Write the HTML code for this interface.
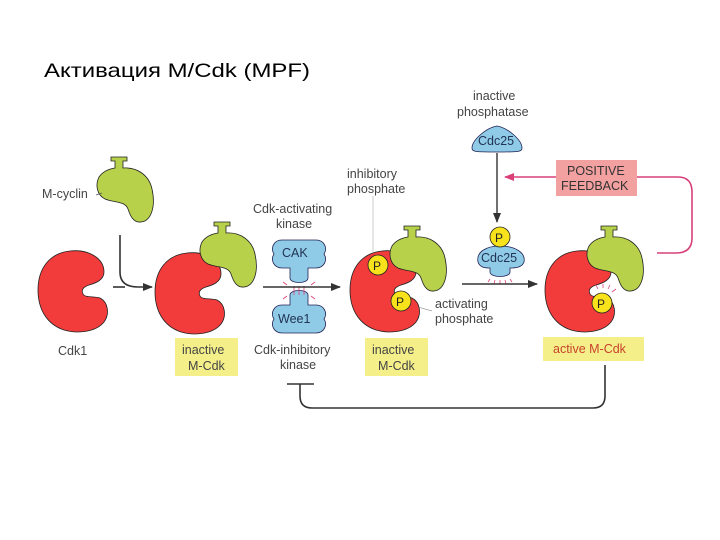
<!DOCTYPE html>
<html><head><meta charset="utf-8"><style>
html,body{margin:0;padding:0;background:#fff}
svg{display:block}
text{font-family:"Liberation Sans",sans-serif;fill:#444;font-size:12.5px}
</style></head><body>
<svg width="720" height="540" viewBox="0 0 720 540" xmlns="http://www.w3.org/2000/svg">
<defs>
<path id="cdk" d="M32,1 C50,-1 66,8 66,22 C66,30 58,33 51,35 C45,37 43,40 45,44 C47,48 56,46 62,48 C70,52 72,64 66,72 C58,82 40,84 26,80 C8,74 0,58 0,40 C0,18 12,3 32,1Z" fill="#f23b3b" stroke="#222" stroke-width="0.8"/>
<path id="cyc" d="M16,0 H32 V4 H28 V11 C42,10 54,18 57,32 C61,50 56,64 46,65 C38,66 35,58 33,52 C30,44 20,46 10,42 C2,38 0,28 4,20 C8,14 14,12 20,11 V4 H16Z" fill="#b7d14a" stroke="#222" stroke-width="0.8"/>
<path id="kin" d="M10,0 H44 C52,0 56,8 52,14 C56,20 52,28 44,28 H36 V38 C36,44 18,44 18,38 V28 H10 C2,28 -2,20 2,14 C-2,8 2,0 10,0Z" fill="#8fcbe6" stroke="#225" stroke-width="0.8"/>
<marker id="ah" markerWidth="10" markerHeight="8" refX="9" refY="4" orient="auto" markerUnits="userSpaceOnUse"><path d="M0,0 L10,4 L0,8Z" fill="#333"/></marker>
<marker id="ahp" markerWidth="10" markerHeight="8" refX="9" refY="4" orient="auto" markerUnits="userSpaceOnUse"><path d="M0,0 L10,4 L0,8Z" fill="#d9407a"/></marker>
</defs>

<text x="44" y="77" style="font-size:19.5px;fill:#000" textLength="266" lengthAdjust="spacingAndGlyphs">Активация M/Cdk (MPF)</text>

<use href="#cyc" x="95" y="157"/>
<use href="#cdk" x="38" y="250"/>
<text x="42" y="198">M-cyclin</text>
<line x1="96" y1="195" x2="102" y2="193" stroke="#555" stroke-width="0.7"/>
<text x="58" y="355">Cdk1</text>

<path d="M120,235 V272 Q120,287 138,287 H152" stroke="#333" stroke-width="1.6" fill="none" marker-end="url(#ah)"/>
<path d="M113,287 H125" stroke="#333" stroke-width="1.6"/>

<use href="#cdk" x="155" y="252"/>
<use href="#cyc" x="198" y="222"/>
<rect x="175" y="338" width="63" height="38" fill="#f5ef8a"/>
<text x="182" y="354">inactive</text><text x="188" y="370">M-Cdk</text>

<text x="253" y="213">Cdk-activating</text><text x="276" y="228">kinase</text>
<use href="#kin" x="272" y="240"/>
<text x="282" y="257" style="fill:#235">CAK</text>
<use href="#kin" transform="translate(272,333) scale(1,-1)"/>
<text x="278" y="323" style="fill:#235">Wee1</text>
<g stroke="#d9407a" stroke-width="0.8">
<line x1="294" y1="286" x2="294" y2="295"/><line x1="299" y1="286" x2="299" y2="295"/><line x1="304" y1="286" x2="304" y2="295"/>
<line x1="287" y1="285" x2="283" y2="282"/><line x1="311" y1="285" x2="315" y2="282"/>
<line x1="287" y1="296" x2="283" y2="299"/><line x1="311" y1="296" x2="315" y2="299"/>
</g>
<path d="M263,287 H340" stroke="#333" stroke-width="1.6" marker-end="url(#ah)"/>
<text x="254" y="354">Cdk-inhibitory</text><text x="280" y="369">kinase</text>

<use href="#cdk" x="350" y="250"/>
<use href="#cyc" x="388" y="226"/>
<circle cx="378" cy="265" r="10" fill="#f7e21b" stroke="#222" stroke-width="0.8"/><text x="373" y="270" style="fill:#222;font-size:12px">P</text>
<circle cx="401" cy="301" r="10" fill="#f7e21b" stroke="#222" stroke-width="0.8"/><text x="396" y="306" style="fill:#222;font-size:12px">P</text>
<text x="347" y="178">inhibitory</text><text x="347" y="193">phosphate</text>
<line x1="373" y1="196" x2="373" y2="253" stroke="#aaa" stroke-width="0.6"/>
<text x="435" y="308">activating</text><text x="435" y="323">phosphate</text>
<line x1="418" y1="307" x2="432" y2="311" stroke="#777" stroke-width="0.6"/>
<rect x="365" y="338" width="63" height="38" fill="#f5ef8a"/>
<text x="372" y="354">inactive</text><text x="378" y="370">M-Cdk</text>

<text x="473" y="100">inactive</text><text x="457" y="116">phosphatase</text>
<path d="M472,148 C472,140 486,128 497,126 C508,128 522,140 522,148 C522,152 518,152 497,152 C476,152 472,152 472,148Z" fill="#8fcbe6" stroke="#225" stroke-width="0.8"/>
<text x="478" y="145" style="fill:#235">Cdc25</text>
<path d="M497,153 V222" stroke="#333" stroke-width="1.4" marker-end="url(#ah)"/>
<path d="M478,262 C476,252 486,246 500,246 C514,246 526,252 524,262 C522,268 514,268 510,268 V272 C510,278 490,278 490,272 V268 C486,268 480,268 478,262Z" fill="#8fcbe6" stroke="#225" stroke-width="0.8"/>
<circle cx="500" cy="237" r="10" fill="#f7e21b" stroke="#222" stroke-width="0.8"/><text x="495" y="242" style="fill:#222;font-size:12px">P</text>
<text x="481" y="262" style="fill:#235">Cdc25</text>
<g stroke="#d9407a" stroke-width="0.8">
<line x1="490" y1="279" x2="488" y2="282"/><line x1="495" y1="280" x2="494" y2="284"/><line x1="500" y1="280" x2="500" y2="284"/><line x1="505" y1="280" x2="506" y2="284"/><line x1="510" y1="279" x2="512" y2="282"/>
</g>
<path d="M462,284 H537" stroke="#333" stroke-width="1.6" marker-end="url(#ah)"/>

<use href="#cdk" x="545" y="250"/>
<use href="#cyc" x="585" y="226"/>
<circle cx="602" cy="303" r="10" fill="#f7e21b" stroke="#222" stroke-width="0.8"/><text x="597" y="308" style="fill:#222;font-size:12px">P</text>
<g stroke="#d9407a" stroke-width="0.8">
<line x1="598" y1="289" x2="596" y2="285"/><line x1="603" y1="288" x2="603" y2="284"/><line x1="608" y1="289" x2="610" y2="285"/><line x1="612" y1="292" x2="616" y2="289"/>
</g>
<rect x="543" y="337" width="101" height="24" fill="#f5ef8a"/>
<text x="553" y="353" style="fill:#c8432a">active M-Cdk</text>

<rect x="556" y="160" width="81" height="36" fill="#f3a0a0"/>
<text x="567" y="175" style="fill:#333">POSITIVE</text><text x="561" y="190" style="fill:#333">FEEDBACK</text>
<path d="M556,177 H505" stroke="#d9407a" stroke-width="1.4" marker-end="url(#ahp)"/>
<path d="M637,177 H678 Q692,177 692,192 V238 Q692,253 676,253 H657" stroke="#d9407a" stroke-width="1.6" fill="none"/>

<path d="M605,365 V396 Q605,408 593,408 H312 Q300,408 300,396 V384" stroke="#333" stroke-width="1.6" fill="none"/>
<line x1="287" y1="384" x2="314" y2="384" stroke="#333" stroke-width="1.6"/>
</svg>
</body></html>
